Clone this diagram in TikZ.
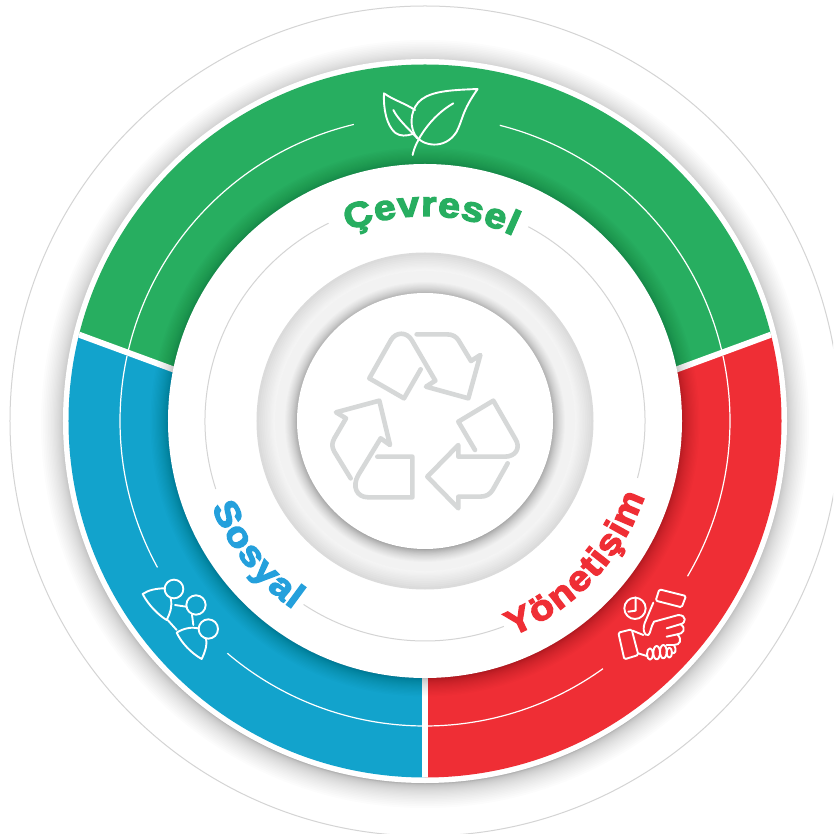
\documentclass[tikz,border=0pt]{standalone}
\usepackage{fontspec}
\usetikzlibrary{decorations.text}
\newfontfamily\blk[FakeBold=3.8,FakeStretch=1.12]{Liberation Sans Bold}
\definecolor{cgreen}{RGB}{39,174,96}
\definecolor{cblue}{RGB}{18,163,204}
\definecolor{cred}{RGB}{239,46,53}
\definecolor{tblue}{RGB}{36,160,220}
\definecolor{thin}{RGB}{212,212,212}
\definecolor{iconGray}{RGB}{214,216,216}
\tikzset{
  thinwhite/.style={draw=white,line width=1.2pt},
  thingray/.style={draw=thin,line width=1pt},
  divider/.style={draw=white,line width=6pt},
  icon/.style={draw=white,line width=1.9pt,line cap=round,line join=round},
  recycle/.style={draw=iconGray,line width=4.6pt,line cap=round,line join=round},
  zoomed/.style={x=0.33333pt,y=-0.33333pt},
  label/.style={decorate,decoration={text along path,text align=fit to path,text={#1}}}
}
\newcommand{\softshadow}[6]{% cx cy R L steps opacity
  \foreach \i in {1,...,#5}{
    \pgfmathsetmacro{\rr}{#3+#4*(1-\i/#5)^2}
    \fill[#6] (#1,#2) circle[radius=\rr];
  }
}
\begin{document}
\begin{tikzpicture}[x=1pt,y=1pt]
\useasboundingbox (-425,-413) rectangle (408,421);
\fill[white] (-425,-413) rectangle (408,421);
\begin{scope}
\clip (-425,-413) rectangle (408,421);
\draw[thingray] (0,0) circle[radius=415];
\end{scope}
\softshadow{0}{-3}{360}{26}{26}{black,opacity=0.013}
\fill[white] (0,0) circle[radius=362];
\begin{scope}
\clip (0,0) circle[radius=356.5];
\coordinate (P) at (0,-41);
\coordinate (R) at (800,253.4);
\coordinate (L) at (-800,253.4);
\fill[cgreen] (P) -- (R) -- (800,800) -- (-800,800) -- (L) -- cycle;
\fill[cred] (P) -- (R) -- (800,-800) -- (0,-800) -- cycle;
\fill[cblue] (P) -- (L) -- (-800,-800) -- (0,-800) -- cycle;
\draw[divider] (P) -- (R);
\draw[divider] (P) -- (L);
\draw[divider] (P) -- (0,-800);
\end{scope}
% thin white arcs
\draw[thinwhite] (166.6:305) arc[start angle=166.6,end angle=103.5,radius=305];
\draw[thinwhite] (75.8:305) arc[start angle=75.8,end angle=13.4,radius=305];
\draw[thinwhite] (167.7:305) arc[start angle=167.7,end angle=208.7,radius=305];
\draw[thinwhite] (229.6:305) arc[start angle=229.6,end angle=269.5,radius=305];
\draw[thinwhite] (270.5:305) arc[start angle=270.5,end angle=305.7,radius=305];
\draw[thinwhite] (329.4:305) arc[start angle=329.4,end angle=372.3,radius=305];
% white disc with shadow
\softshadow{0}{-1}{256}{20}{26}{black,opacity=0.011}
\fill[white] (0,0) circle[radius=257];
% thin gray arcs
\draw[thingray] (116:220) arc[start angle=116,end angle=198,radius=220];
\draw[thingray] (236.5:220) arc[start angle=236.5,end angle=291,radius=220];
\draw[thingray] (62:220) arc[start angle=62,end angle=-15,radius=220];
% gray ring
\fill[white!86!black] (0,0) circle[radius=168.5];
\softshadow{0}{0}{150}{18}{16}{white,opacity=0.12}
\fill[white!95!black] (0,0) circle[radius=150];
\softshadow{0}{-1}{127}{14}{26}{black,opacity=0.015}
\fill[white] (0,0) circle[radius=128];
% recycle icon
\begin{scope}[shift={(-135pt,131pt)},zoomed]
\draw[recycle] (380,133) -- (470,133) .. controls (488,133) and (498,140) .. (505,150) -- (543,213) -- (571,195) -- (535,325) -- (408,290) -- (436,272) -- (365,150) .. controls (350,125) and (318,125) .. (303,150) -- (238,265) -- (342,325) -- (392,238);
\draw[recycle] (555,480) -- (505,395) -- (610,332) -- (675,445) .. controls (695,475) and (675,500) .. (645,500) -- (505,500) -- (505,465) -- (412,560) -- (505,655) -- (505,620) -- (570,620) .. controls (590,620) and (600,612) .. (608,600) -- (653,520);
\draw[recycle] (262,500) -- (367,500) -- (367,622) -- (235,622) .. controls (200,622) and (185,590) .. (205,555) -- (272,445) -- (300,465) -- (268,332) -- (138,367) -- (168,385) -- (133,445) .. controls (125,460) and (125,470) .. (133,485) -- (182,565);
\end{scope}
% leaf icon
\begin{scope}[shift={(-95pt,361pt)},zoomed]
\draw[icon] (443,87) .. controls (370,90) and (310,92) .. (275,118) .. controls (245,140) and (235,190) .. (255,225) .. controls (275,258) and (345,272) .. (380,215) .. controls (400,175) and (395,155) .. cycle;
\draw[icon] (248,285) .. controls (255,245) and (300,170) .. (370,130);
\draw[icon] (255,150) .. controls (225,130) and (190,120) .. (162,100) .. controls (160,150) and (170,195) .. (195,218) .. controls (210,230) and (230,228) .. (248,222);
\draw[icon] (190,150) .. controls (205,180) and (235,205) .. (262,235);
\end{scope}
% hands icon
\begin{scope}[shift={(65pt,-59pt)},zoomed]
\draw[icon,rounded corners=1.5pt] (508,328) -- (588,348) -- (575,382) -- (497,362) -- cycle;
\draw[icon,rounded corners=1.5pt] (385,458) -- (425,448) -- (445,525) -- (403,538) -- cycle;
\draw[icon] (435,385) circle[radius=32];
\draw[icon] (437,352) -- (437,392) -- (415,395);
\draw[icon] (490,368) -- (468,420) .. controls (455,445) and (462,470) .. (475,465) .. controls (482,460) and (482,440) .. (492,425) -- (565,405) .. controls (590,405) and (590,430) .. (570,433) -- (530,445);
\draw[icon] (572,433) .. controls (590,445) and (580,462) .. (562,463) -- (530,470);
\draw[icon] (562,463) .. controls (578,480) and (570,495) .. (552,495) -- (530,495);
\draw[icon] (552,495) .. controls (562,510) and (555,525) .. (545,518);
\draw[icon] (428,452) -- (460,465);
\draw[icon] (445,520) -- (470,528);
\draw[icon] (480,522) circle[x radius=9,y radius=17];
\draw[icon] (500,518) circle[x radius=10,y radius=20];
\draw[icon] (520,515) circle[x radius=10,y radius=20];
\draw[icon] (538,518) circle[x radius=8,y radius=15];
\end{scope}
% people icon
\begin{scope}[shift={(-295pt,-59pt)},zoomed]
\draw[icon] (132,327) circle[radius=28];
\draw[icon] (198,375) circle[radius=29];
\draw[icon] (235,447) circle[radius=29];
\draw[icon] (105,325) .. controls (80,325) and (55,330) .. (38,342) .. controls (55,375) and (85,405) .. (110,420) .. controls (120,400) and (128,380) .. (122,355);
\draw[icon] (205,445) .. controls (185,440) and (160,445) .. (140,458) .. controls (155,490) and (185,520) .. (215,537) .. controls (228,510) and (232,490) .. (228,476);
\draw[icon] (135,375) -- (168,380);
\draw[icon] (186,404) -- (190,435);
\draw[icon] (113,420) -- (140,450);
\end{scope}
% labels
\path[label={|\fontsize{35}{35}\selectfont\blk\color{cgreen}|Çevresel}] (112:205) arc[start angle=112,end angle=64.5,radius=205];
\path[label={|\fontsize{35}{35}\selectfont\blk\color{cred}|Yönetişim}] (-68:232) arc[start angle=-68,end angle=-19,radius=232];
\path[label={|\fontsize{35}{35}\selectfont\blk\color{tblue}|Sosyal}] (202:230) arc[start angle=202,end angle=235,radius=230];
\end{tikzpicture}
\end{document}
